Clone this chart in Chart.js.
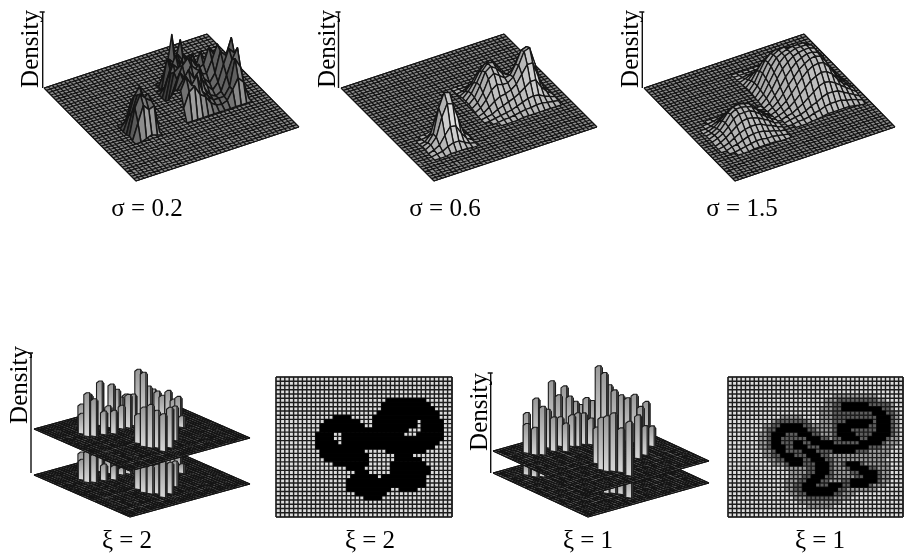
<!DOCTYPE html>
<html>
<head>
<meta charset="utf-8">
<style>
  body { margin: 0; background: #fff; }
  canvas { display: block; }
</style>
<script src="https://cdn.jsdelivr.net/npm/chart.js@4"></script>
</head>
<body>
<canvas id="chart" width="909" height="558"></canvas>
<script>
// labels
const captions = ['σ = 0.2', 'σ = 0.6', 'σ = 1.5', 'ξ = 2', 'ξ = 2', 'ξ = 1', 'ξ = 1'];
const axisTitle = 'Density';

// surface heights, rows are v, columns are u, on a 30 cell grid
const sigma02Left = [
  [0, 0, 0, 0, 0, 0],
  [0, 6, 24, 30, 14, 0],
  [0, 14, 32, 40, 24, 0],
  [0, 20, 36, 30, 34, 0],
  [2, 28, 40, 34, 30, 0],
  [0, 16, 32, 26, 28, 0],
  [0, 0, 2, 4, 2, 0]
];
const sigma02Right = [
  [0, 0, 0, 10, 44, 8, 0, 0, 0, 0, 0, 0, 0],
  [0, 0, 12, 24, 18, 40, 6, 0, 0, 0, 0, 0, 0],
  [0, 0, 30, 18, 30, 22, 10, 0, 0, 0, 0, 0, 0],
  [0, 6, 22, 34, 20, 28, 30, 12, 0, 0, 0, 0, 0],
  [0, 18, 30, 24, 36, 26, 18, 34, 22, 6, 0, 0, 0],
  [0, 26, 20, 36, 24, 38, 22, 24, 40, 30, 10, 0, 0],
  [4, 30, 34, 22, 40, 30, 20, 18, 30, 44, 28, 8, 0],
  [12, 26, 38, 44, 28, 34, 18, 12, 20, 40, 34, 50, 0],
  [20, 36, 28, 40, 34, 22, 14, 8, 14, 30, 44, 38, 0],
  [24, 32, 40, 30, 36, 16, 8, 5, 8, 22, 36, 46, 0],
  [26, 38, 28, 36, 18, 12, 6, 6, 6, 14, 40, 30, 0],
  [12, 26, 30, 20, 16, 8, 4, 3, 5, 14, 24, 18, 0],
  [0, 0, 0, 0, 0, 0, 0, 0, 0, 0, 0, 0, 0]
];
const sigma06Left = [
  [0, 0, 0, 1, 2, 2, 1, 0, 0],
  [0, 0, 1, 5, 11, 11, 5, 1, 0],
  [0, 1, 6, 22, 36, 34, 18, 4, 0],
  [1, 3, 10, 34, 48, 46, 26, 7, 1],
  [1, 4, 10, 28, 40, 38, 22, 6, 1],
  [0, 2, 5, 13, 20, 19, 10, 3, 0],
  [0, 1, 2, 5, 7, 7, 4, 1, 0],
  [0, 0, 0, 1, 1, 1, 1, 0, 0]
];
const sigma06Right = [
  [0, 0, 0, 0, 0, 0, 0, 0, 0, 0, 0, 0, 0, 0],
  [1, 1, 1, 2, 3, 3, 2, 1, 0, 0, 0, 0, 0, 0],
  [1, 2, 4, 8, 12, 13, 9, 4, 2, 1, 1, 1, 0, 0],
  [2, 5, 10, 18, 24, 26, 18, 9, 5, 4, 4, 3, 1, 0],
  [3, 8, 15, 24, 30, 32, 24, 14, 10, 12, 14, 9, 3, 1],
  [3, 9, 18, 28, 34, 33, 25, 17, 16, 22, 26, 18, 6, 1],
  [3, 8, 18, 30, 34, 30, 24, 20, 24, 34, 38, 26, 9, 2],
  [2, 6, 14, 26, 30, 26, 22, 23, 32, 44, 46, 32, 11, 3],
  [1, 4, 10, 18, 22, 20, 20, 24, 34, 46, 48, 30, 10, 3],
  [0, 2, 6, 10, 13, 14, 16, 20, 28, 36, 36, 21, 8, 3],
  [0, 1, 2, 5, 7, 9, 11, 14, 18, 22, 22, 13, 7, 3],
  [0, 0, 1, 2, 3, 4, 6, 8, 10, 11, 10, 7, 5, 3],
  [0, 0, 0, 1, 1, 2, 3, 4, 4, 5, 5, 4, 3, 2],
  [0, 0, 0, 0, 0, 0, 1, 1, 1, 1, 1, 1, 1, 1]
];
const sigma15Left = [
  [0, 0, 0, 0, 0, 0, 1, 1, 1, 0, 0, 0, 0],
  [0, 0, 0, 1, 2, 3, 4, 4, 3, 2, 1, 0, 0],
  [0, 0, 1, 3, 6, 9, 10, 10, 8, 5, 3, 1, 0],
  [0, 1, 3, 7, 12, 16, 18, 18, 15, 10, 6, 3, 1],
  [1, 2, 5, 11, 17, 21, 22, 21, 19, 13, 8, 4, 1],
  [1, 3, 6, 12, 19, 22, 22, 21, 19, 14, 9, 5, 2],
  [1, 3, 6, 11, 17, 20, 20, 20, 17, 13, 9, 5, 2],
  [0, 2, 5, 9, 13, 16, 17, 16, 14, 11, 8, 4, 2],
  [0, 1, 3, 6, 9, 11, 12, 12, 11, 8, 6, 3, 1],
  [0, 0, 2, 3, 5, 7, 8, 8, 7, 5, 4, 2, 1],
  [0, 0, 0, 1, 2, 3, 4, 4, 3, 3, 2, 1, 0],
  [0, 0, 0, 0, 0, 1, 1, 1, 1, 1, 0, 0, 0]
];
const sigma15Right = [
  [0, 0, 0, 0, 0, 0, 0, 0, 0, 0, 0, 0, 0, 0, 0, 0],
  [1, 1, 1, 1, 1, 1, 1, 1, 1, 1, 1, 0, 0, 0, 0, 0],
  [1, 2, 3, 3, 3, 3, 2, 2, 2, 2, 2, 2, 1, 1, 0, 0],
  [2, 4, 6, 8, 9, 9, 8, 6, 6, 6, 6, 5, 3, 2, 1, 0],
  [2, 6, 11, 15, 18, 18, 16, 13, 12, 12, 12, 10, 6, 3, 1, 0],
  [3, 8, 16, 23, 27, 28, 26, 22, 21, 20, 20, 16, 10, 5, 2, 0],
  [3, 9, 19, 28, 33, 35, 34, 31, 29, 29, 28, 22, 14, 7, 3, 1],
  [3, 9, 20, 29, 35, 38, 39, 37, 36, 36, 34, 27, 18, 9, 3, 1],
  [2, 8, 18, 28, 35, 38, 40, 41, 41, 41, 38, 30, 20, 11, 4, 1],
  [2, 7, 16, 25, 33, 38, 40, 42, 42, 42, 40, 32, 21, 12, 5, 2],
  [1, 6, 13, 22, 30, 35, 39, 41, 42, 42, 40, 33, 22, 13, 6, 2],
  [1, 4, 10, 17, 25, 31, 36, 39, 41, 41, 39, 33, 22, 13, 7, 3],
  [0, 3, 7, 13, 20, 26, 32, 36, 39, 40, 38, 31, 22, 13, 8, 4],
  [0, 2, 5, 9, 15, 21, 27, 32, 35, 36, 35, 29, 21, 13, 8, 4],
  [0, 1, 3, 6, 10, 15, 20, 25, 28, 30, 29, 25, 18, 12, 8, 4],
  [0, 0, 2, 3, 6, 9, 13, 17, 21, 23, 22, 19, 15, 11, 7, 3],
  [0, 0, 1, 2, 3, 5, 8, 10, 13, 15, 15, 14, 11, 8, 5, 2],
  [0, 0, 0, 1, 1, 2, 4, 5, 7, 8, 8, 8, 6, 5, 3, 1],
  [0, 0, 0, 0, 0, 1, 1, 2, 3, 3, 3, 3, 3, 2, 1, 0]
];

// column positions on the 40 cell plane and their heights
const xi2U = [7.8, 7.8, 9.2, 11.6, 14, 15.4, 12, 16.3, 20.1, 14.4, 22, 24.3, 18.3, 20.1, 25.4, 22.2, 26.4, 27.5, 30, 31, 31.8, 31.8, 32.5, 32.8, 32.2, 31.3, 14.9, 14.6, 15.3, 16.6, 16.3, 19.3, 23.7];
const xi2V = [10.2, 12.5, 13.6, 5.3, 5.6, 8.3, 14.2, 10.6, 7.2, 15.4, 7.1, 5.8, 13.7, 14.2, 6.6, 13.6, 10.5, 11.4, 10.3, 11, 11.7, 13.8, 15.4, 17.2, 19.9, 22.4, 24.8, 27.6, 29.5, 30.4, 33.5, 32.6, 29.1];
const xi2Upper = [19, 42, 36, 20, 28, 43, 22, 20, 35, 22, 28, 17, 22, 32, 20, 30, 48, 45, 28, 25, 23, 21, 27, 20, 26, 10, 28, 38, 42, 36, 36, 39, 33];
const xi2Lower = [19, 30, 27, 18, 20, 25, 15, 16, 18, 13, 10, 8, 6, 6, 5, 5, 14, 14, 14, 13, 12, 12, 14, 12, 14, 8, 20, 25, 27, 28, 35, 30, 24];

const xi1U = [6.3, 7.2, 8.8, 9.4, 12.9, 12.9, 17.6, 12.6, 19, 16.2, 21, 15, 22, 18.6, 24, 19.8, 25.8, 21.8, 27, 23.3, 28.2, 27.2, 27.6, 29.4, 30.4, 31.8, 32.3, 33, 34.2, 35.4, 35, 16, 14.2, 14.7, 16, 17.1, 17.3, 26.8, 29.7];
const xi1V = [6.2, 8.5, 9.8, 2.3, 1.8, 6.6, 2.4, 9.6, 3.5, 7.7, 3.4, 11.6, 4.3, 9.6, 4.2, 10.5, 4, 10.4, 5, 11.6, 5.9, 9.9, 11.8, 11.6, 12.5, 13.5, 15.6, 17.6, 18.6, 19.5, 22.4, 23.3, 27.6, 29.3, 30.4, 32.2, 35.4, 27, 26.2];
const xi1Upper = [28, 26, 47, 32, 43, 37, 57, 33, 43, 28, 50, 27, 40, 30, 33, 32, 28, 30, 35, 25, 32, 72, 67, 53, 48, 43, 42, 47, 35, 40, 19, 35, 51, 54, 57, 43, 53, 42, 28];
const xi1Lower = [10, 9, 9, 0, 0, 4, 0, 4, 0, 0, 0, 3, 0, 0, 0, 0, 0, 0, 0, 0, 0, 0, 0, 0, 0, 0, 0, 0, 0, 0, 0, 6, 10, 10, 12, 12, 20, 8, 0];

// density cells for the maps: [row, first column, last column]
const xi2Cells = [
  [5, 25, 33], [6, 24, 34], [7, 24, 35], [8, 23, 36], [9, 13, 16], [9, 22, 36],
  [10, 11, 18], [10, 22, 31], [10, 33, 37], [11, 10, 19], [11, 22, 31], [11, 33, 37],
  [12, 10, 29], [12, 33, 37], [13, 9, 12], [13, 15, 28], [13, 32, 37],
  [14, 9, 12], [14, 15, 37], [15, 9, 13], [15, 15, 36], [16, 9, 35], 
  [17, 10, 19], [17, 25, 33], [18, 10, 20], [18, 27, 30], [19, 11, 20], [19, 27, 32],
  [20, 13, 20], [20, 26, 33], [21, 16, 19], [21, 26, 34], [22, 18, 20], [22, 26, 34],
  [23, 17, 22], [23, 24, 33], [24, 16, 33], [25, 16, 26], [25, 27, 33],
  [26, 16, 25], [26, 28, 31], [27, 18, 24], [28, 20, 23]
];
const xi1Halo = [
  [4, 24, 33], [5, 22, 35], [6, 22, 37], [7, 21, 37], [8, 21, 38], [9, 12, 16], [9, 21, 38],
  [10, 10, 18], [10, 21, 38], [11, 8, 38], [12, 8, 38], [13, 7, 38], [14, 7, 38], [15, 7, 38],
  [16, 7, 37], [17, 8, 36], [18, 8, 36], [19, 9, 35], [20, 10, 36], [21, 13, 36], [22, 14, 36],
  [23, 14, 36], [24, 13, 36], [25, 13, 35], [26, 13, 33], [27, 14, 28], [28, 15, 27], [29, 16, 25], [30, 18, 23]
];
const xi1Shadow = [
  [5, 25, 33], [6, 24, 36], [7, 24, 36], [8, 24, 37], [9, 24, 37], [10, 11, 17], [10, 24, 37],
  [11, 10, 18], [11, 24, 37], [12, 9, 19], [12, 24, 37], [13, 9, 20], [13, 24, 37], [14, 9, 22],
  [14, 24, 36], [15, 9, 35], [16, 9, 34], [17, 10, 31], [18, 10, 22], [19, 11, 23], [20, 13, 23],
  [20, 26, 30], [21, 18, 23], [21, 27, 33], [22, 18, 23], [22, 28, 34], [23, 17, 23], [23, 29, 34],
  [24, 16, 22], [24, 26, 34], [25, 15, 26], [25, 27, 32], [26, 15, 26], [27, 16, 25], [28, 18, 23]
];
const xi1Cells = [
  [6, 26, 31], [7, 26, 34], [8, 33, 35], [9, 34, 36], [10, 27, 32], [10, 34, 36],
  [11, 12, 16], [11, 25, 31], [11, 34, 36], [12, 11, 17], [12, 25, 27], [12, 34, 36],
  [13, 10, 12], [13, 16, 18], [13, 25, 28], [13, 33, 36], [14, 10, 11], [14, 18, 20],
  [14, 26, 29], [14, 32, 35], [15, 10, 11], [15, 15, 16], [15, 19, 23], [15, 30, 34],
  [16, 10, 12], [16, 15, 17], [16, 21, 31], [17, 11, 12], [17, 17, 19], [17, 24, 28],
  [18, 12, 14], [18, 18, 20], [19, 13, 16], [19, 19, 21], [20, 14, 16], [20, 20, 22],
  [20, 27, 29], [21, 20, 22], [21, 28, 31], [22, 20, 22], [22, 30, 33], [23, 19, 21],
  [23, 31, 33], [24, 18, 20], [24, 28, 33], [25, 17, 19], [25, 23, 25], [25, 28, 31],
  [26, 17, 24], [27, 18, 23]
];

// layout of the panels, in page pixels
const surfacePanels = [
  { left: [44, 88], top: [207, 34], bottom: [136, 181], gray: 100, width: 1.5,
    blocks: [[5, 15, sigma02Left], [15, 8, sigma02Right]] },
  { left: [341, 88], top: [504, 34], bottom: [434, 181], gray: 178, width: 1.3,
    blocks: [[3, 18, sigma06Left], [15, 9, sigma06Right]] },
  { left: [644, 88], top: [804, 34], bottom: [735, 181], gray: 178, width: 1.3,
    blocks: [[2, 13, sigma15Left], [14, 4, sigma15Right]] }
];
const barPanels = [
  { left: [34, 429], top: [154, 396], bottom: [130, 471], drop: 46, u: xi2U, v: xi2V, upper: xi2Upper, lower: xi2Lower },
  { left: [493, 451], top: [614, 417], bottom: [588, 495], drop: 22, u: xi1U, v: xi1V, upper: xi1Upper, lower: xi1Lower }
];
const mapPanels = [
  { x: 276, y: 377, w: 176, h: 140, layers: [[xi2Cells, '#000']] },
  { x: 728, y: 377, w: 175, h: 140, layers: [[xi1Halo, '#9c9c9c'], [xi1Shadow, '#5e5e5e'], [xi1Cells, '#000']] }
];
const axes = [[42.7, 12, 88], [338.5, 12, 88], [642.3, 12, 88], [31, 353, 473], [490.7, 373, 473]];
const axisLabels = [[38, 49], [335, 49], [638, 49], [27, 385], [487, 412]];
const captionSpots = [[147, 209], [445, 209], [742, 209], [127, 541], [370, 541], [588, 541], [820, 541]];

const planeCells = 40;
const mapCols = 40;
const mapRows = 33;
const paint = []; // datasets in paint order, back first
const canvas = document.getElementById('chart');

function project(plane, u, v, h) {
  return {
    x: plane.left[0] + u * (plane.top[0] - plane.left[0]) + v * (plane.bottom[0] - plane.left[0]),
    y: plane.left[1] + u * (plane.top[1] - plane.left[1]) + v * (plane.bottom[1] - plane.left[1]) - h
  };
}

function shape(points, fillColor, lineColor, lineWidth) {
  paint.push({
    data: points.concat([points[0]]),
    showLine: true,
    pointRadius: 0,
    fill: 'shape',
    backgroundColor: fillColor,
    borderColor: lineColor,
    borderWidth: lineWidth,
    borderJoinStyle: 'round'
  });
}

function lines(points, lineColor, lineWidth) {
  paint.push({
    data: points,
    showLine: true,
    pointRadius: 0,
    fill: false,
    borderColor: lineColor,
    borderWidth: lineWidth
  });
}

function addPlane(plane) {
  shape([project(plane, 0, 0, 0), project(plane, 1, 0, 0), project(plane, 1, 1, 0), project(plane, 0, 1, 0)], '#8c8c8c', '#111', 1);
  const grid = [];
  for (let i = 0; i <= planeCells; i++) {
    const t = i / planeCells;
    grid.push(project(plane, t, 0, 0), project(plane, t, 1, 0), { x: NaN, y: NaN });
    grid.push(project(plane, 0, t, 0), project(plane, 1, t, 0), { x: NaN, y: NaN });
  }
  lines(grid, '#141414', 1.25);
}

function addSurface(panel) {
  addPlane(panel);
  const quads = [];
  panel.blocks.forEach(([u0, v0, rows]) => {
    for (let r = 0; r < rows.length - 1; r++) {
      for (let c = 0; c < rows[r].length - 1; c++) {
        const a = rows[r][c], b = rows[r][c + 1], d = rows[r + 1][c], e = rows[r + 1][c + 1];
        if (a + b + d + e === 0) continue;
        const u = (u0 + c) / 30, v = (v0 + r) / 30, s = 1 / 30;
        const slope = (d + e - a - b) / 2;
        const side = (b + e - a - d) / 2;
        const level = Math.max(60, Math.min(225, panel.gray - 2.2 * slope - 1.2 * side));
        quads.push({
          depth: project(panel, u + s / 2, v + s / 2, 0).y,
          points: [project(panel, u, v, a), project(panel, u + s, v, b), project(panel, u + s, v + s, e), project(panel, u, v + s, d)],
          color: `rgb(${level},${level},${level})`
        });
      }
    }
  });
  quads.sort((p, q) => p.depth - q.depth);
  quads.forEach(q => shape(q.points, q.color, '#151515', panel.width));
}

function addBars(plane, us, vs, heights) {
  const ctx = canvas.getContext('2d');
  const order = us.map((u, i) => i).filter(i => heights[i] > 0);
  order.sort((i, j) => project(plane, us[i] / planeCells, vs[i] / planeCells, 0).y - project(plane, us[j] / planeCells, vs[j] / planeCells, 0).y);
  order.forEach(i => {
    const foot = project(plane, us[i] / planeCells, vs[i] / planeCells, 0);
    const head = foot.y - heights[i];
    const shade = ctx.createLinearGradient(0, head, 0, foot.y);
    shade.addColorStop(0, '#9a9a9a');
    shade.addColorStop(1, '#d6d6d6');
    shape([{ x: foot.x - 3.6, y: foot.y }, { x: foot.x - 3.6, y: head + 1 }, { x: foot.x - 1, y: head - 1 }, { x: foot.x + 2.2, y: head - 1 }, { x: foot.x + 2.2, y: foot.y + 1 }], shade, '#1c1c1c', 1.1);
    shape([{ x: foot.x + 2.2, y: foot.y + 1 }, { x: foot.x + 2.2, y: head - 1 }, { x: foot.x + 3.6, y: head + 1 }, { x: foot.x + 3.6, y: foot.y }], '#7c7c7c', '#1c1c1c', 0.8);
  });
}

function addBarPanel(panel) {
  const low = {
    left: [panel.left[0], panel.left[1] + panel.drop],
    top: [panel.top[0], panel.top[1] + panel.drop],
    bottom: [panel.bottom[0], panel.bottom[1] + panel.drop]
  };
  addPlane(low);
  addBars(low, panel.u, panel.v, panel.lower);
  addPlane(panel);
  addBars(panel, panel.u, panel.v, panel.upper);
}

function addMap(panel) {
  const cw = panel.w / mapCols, ch = panel.h / mapRows;
  const x = c => panel.x + c * cw;
  const y = r => panel.y + r * ch;
  shape([{ x: x(0), y: y(0) }, { x: x(mapCols), y: y(0) }, { x: x(mapCols), y: y(mapRows) }, { x: x(0), y: y(mapRows) }], '#dcdcdc', '#444', 1);
  const grid = [];
  for (let c = 0; c <= mapCols; c++) grid.push({ x: x(c), y: y(0) }, { x: x(c), y: y(mapRows) }, { x: NaN, y: NaN });
  for (let r = 0; r <= mapRows; r++) grid.push({ x: x(0), y: y(r) }, { x: x(mapCols), y: y(r) }, { x: NaN, y: NaN });
  panel.layers.forEach(([cells, color], n) => {
    if (n === panel.layers.length - 1) lines(grid, '#1c1c1c', 1.4);
    cells.forEach(([r, c0, c1]) => {
      shape([{ x: x(c0), y: y(r) }, { x: x(c1 + 1), y: y(r) }, { x: x(c1 + 1), y: y(r + 1) }, { x: x(c0), y: y(r + 1) }], color, color, 0.5);
    });
  });
}

surfacePanels.forEach(addSurface);
barPanels.forEach(addBarPanel);
mapPanels.forEach(addMap);

axes.forEach(([x, y0, y1]) => {
  lines([{ x: x - 3, y: y0 }, { x: x + 2, y: y0 }, { x: NaN, y: NaN }, { x: x, y: y0 }, { x: x, y: y1 }], '#111', 1.4);
});

// chart.js paints the first dataset last
paint.reverse();

const textPlugin = {
  id: 'panelText',
  afterDraw(chart) {
    const ctx = chart.ctx;
    ctx.save();
    ctx.fillStyle = '#000';
    ctx.font = '25px "Liberation Serif"';
    ctx.textAlign = 'center';
    ctx.textBaseline = 'middle';
    captions.forEach((text, i) => ctx.fillText(text, captionSpots[i][0], captionSpots[i][1]));
    ctx.textBaseline = 'alphabetic';
    axisLabels.forEach(([x, y]) => {
      ctx.save();
      ctx.translate(x, y);
      ctx.rotate(-Math.PI / 2);
      ctx.fillText(axisTitle, 0, 0);
      ctx.restore();
    });
    ctx.restore();
  }
};

new Chart(canvas, {
  type: 'scatter',
  data: { datasets: paint },
  plugins: [textPlugin],
  options: {
    responsive: false,
    animation: false,
    layout: { padding: 0 },
    events: [],
    scales: {
      x: { type: 'linear', min: 0, max: 909, display: false },
      y: { type: 'linear', min: 0, max: 558, reverse: true, display: false }
    },
    plugins: { legend: { display: false }, tooltip: { enabled: false }, title: { display: false } }
  }
});
</script>
</body>
</html>
